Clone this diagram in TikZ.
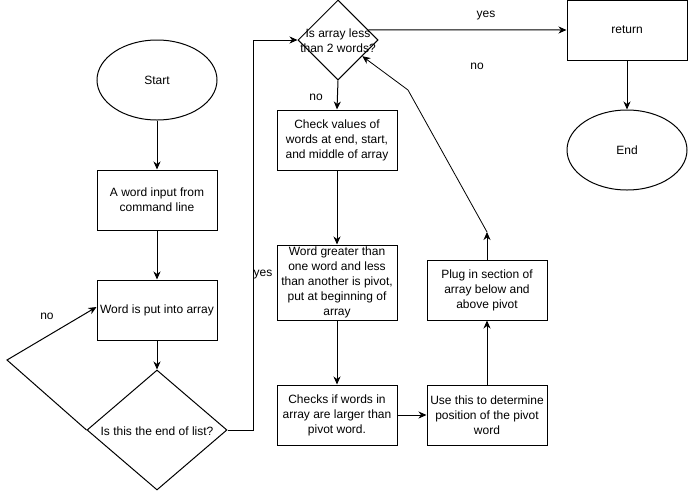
\documentclass[tikz,border=0pt]{standalone}
\usepackage{fontspec}
\setmainfont{Liberation Sans}
\usetikzlibrary{shapes.geometric,arrows.meta,calc}
\begin{document}
\begin{tikzpicture}[x=1pt,y=-1pt,
  every node/.style={font=\fontsize{12}{15}\selectfont},
  box/.style={draw,line width=1pt,minimum width=120pt,minimum height=60pt,inner sep=1pt,align=center},
  oval/.style={draw,line width=1pt,ellipse,minimum width=120pt,minimum height=80pt,inner sep=0pt},
  dia/.style={draw,line width=1pt,diamond,inner sep=0pt},
  txt/.style={align=center,inner sep=0pt},
  conn/.style={line width=1pt,-{Stealth[length=8pt,width=7pt,inset=2.5pt]}},
  plain/.style={line width=1pt}]
\useasboundingbox (0,0) rectangle (688,491);
% nodes
\node[oval] (start) at (157,80) {Start};
\node[box] (input) at (157,200) {A word input from\\command line};
\node[box] (put) at (157,310) {Word is put into array};
\node[dia,minimum width=140pt,minimum height=120pt] (d1) at (157,430) {};
\node[txt] (d1t) at (157,431) {Is this the end of list?};
\node[dia,minimum width=80pt,minimum height=80pt] (d2) at (338,40) {};
\node[txt] (d2t) at (338,41) {Is array less\\than 2 words?};
\node[box] (ret) at (627,30) {return};
\node[oval] (end) at (627,150) {End};
\node[box] (check) at (337,140) {Check values of\\words at end, start,\\and middle of array};
\node[box,minimum height=75pt] (greater) at (337,282.5) {Word greater than\\one word and less\\than another is pivot,\\put at beginning of\\array};
\node[box] (checks) at (337,415) {Checks if words in\\array are larger than\\pivot word.};
\node[box] (use) at (487,415) {Use this to determine\\position of the pivot\\word};
\node[box] (plug) at (487,290) {Plug in section of\\array below and\\above pivot};
% coordinates
\coordinate (nocorner) at (7,360);
\coordinate (ycorner) at (253,40);
\coordinate (c1) at (487,232);
\coordinate (c2) at (408,90);
% labels
\node[txt] (l1) at (486,16) {yes};
\node[txt] (l2) at (477,66) {no};
\node[txt] (l3) at (316,97) {no};
\node[txt] (l4) at (263,275) {yes};
\node[txt] (l5) at (47,316) {no};
% connectors
\draw[conn] (start.south) -- (input.north);
\draw[conn] (input.south) -- (put.north);
\draw[conn] (put.south) -- (d1.north);
\draw[conn] (d1.west) -- (nocorner) -- ([yshift=3pt]put.west);
\draw[conn] (d1.east) -| (ycorner) -- (d2.west);
\draw[conn] ($(d2.north)!0.75!(d2.east)$) -- (ret.west);
\draw[conn] (ret.south) -- (end.north);
\draw[conn] (d2.south) -- (check.north);
\draw[conn] (check.south) -- (greater.north);
\draw[conn] (greater.south) -- (checks.north);
\draw[conn] (checks.east) -- (use.west);
\draw[conn] (use.north) -- (plug.south);
\draw[conn] (plug.north) -- (c1);
\draw[conn,line width=0.8pt] (c1) -- (c2) -- ($(d2.south)!0.6!(d2.east)$);
\end{tikzpicture}
\end{document}
